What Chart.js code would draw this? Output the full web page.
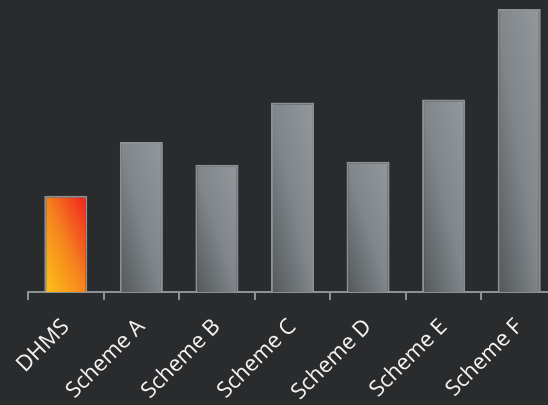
<!DOCTYPE html>
<html>
<head>
<meta charset="utf-8">
<script src="https://cdn.jsdelivr.net/npm/chart.js@4"></script>
<style>
  html, body { margin: 0; padding: 0; background: #2a2b2d; overflow: hidden; }
  #wrap { position: relative; width: 557px; height: 405px; }
</style>
</head>
<body>
<div id="wrap"><canvas id="chart"></canvas></div>
<script>
var labels = ['DHMS', 'Scheme A', 'Scheme B', 'Scheme C', 'Scheme D', 'Scheme E', 'Scheme F'];
var values = [34, 53, 45, 67, 46, 68, 100];
var yMax = 103.2;

var axisGray = '#8b9194';
var barPct = 0.57;

// "to top right" gradient: mid colour runs along the top-left / bottom-right diagonal
var barFill = function (ctx) {
    var chart = ctx.chart;
    var xs = chart.scales.x, ys = chart.scales.y;
    var fallback = ctx.dataIndex === 0 ? '#f68a24' : '#7d8386';
    if (!chart.chartArea || !xs || !ys || ctx.dataIndex === undefined) return fallback;
    var cx = xs.getPixelForValue(ctx.dataIndex);
    var w = xs.width / labels.length * barPct;
    var top = ys.getPixelForValue(values[ctx.dataIndex]);
    var bottom = ys.getPixelForValue(0);
    if (!isFinite(cx) || !isFinite(top) || !isFinite(bottom) || !isFinite(w)) return fallback;
    var h = bottom - top;
    var cy = (top + bottom) / 2;
    var n = Math.sqrt(w * w + h * h);
    var dx = h / n, dy = -w / n;
    var L = w * h / n; // half length
    var g = chart.ctx.createLinearGradient(cx - dx * L, cy - dy * L, cx + dx * L, cy + dy * L);
    if (ctx.dataIndex === 0) {
        g.addColorStop(0, '#ffc417');
        g.addColorStop(0.5, '#f6821f');
        g.addColorStop(1, '#f01e20');
    } else {
        g.addColorStop(0, '#53575a');
        g.addColorStop(0.5, '#80868a');
        g.addColorStop(1, '#92989b');
    }
    return g;
};

var config = {
    type: 'bar',
    data: {
        labels: labels,
        datasets: [{
            data: values,
            backgroundColor: barFill,
            borderColor: axisGray,
            borderWidth: 2,
            borderSkipped: 'bottom',
            barPercentage: barPct,
            categoryPercentage: 1
        }]
    },
    options: {
        responsive: true,
        maintainAspectRatio: false,
        animation: false,
        layout: { padding: { left: 28, top: 0, right: 0, bottom: 0 } },
        plugins: { legend: { display: false }, tooltip: { enabled: false } },
        scales: {
            x: {
                border: { display: true, color: axisGray, width: 2 },
                grid: { drawOnChartArea: false, drawTicks: true, tickLength: 8, color: axisGray, lineWidth: 2 },
                ticks: {
                    color: '#f2f2f2',
                    font: { family: 'Open Sans', size: 22 },
                    maxRotation: 45,
                    minRotation: 45,
                    padding: 14
                },
                afterFit: function (scale) { scale.height = 113; }
            },
            y: {
                display: false,
                min: 0,
                max: yMax
            }
        }
    }
};

window.onload = function () {
    var ctx = document.getElementById('chart').getContext('2d');
    window.myBar = new Chart(ctx, config);
};
</script>
</body>
</html>
